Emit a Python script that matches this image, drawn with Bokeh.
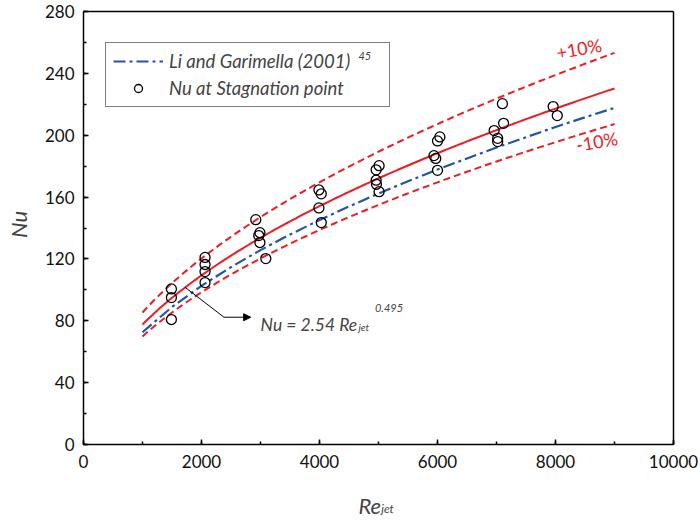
import numpy as np
from bokeh.plotting import figure
from bokeh.models import (Range1d, Label, Arrow, NormalHead, Legend, LegendItem,
                          SingleIntervalTicker, FixedTicker, LinearAxis)
from bokeh.embed import file_html
from bokeh.resources import INLINE

# ---- data ----
re_exp = [1490, 1490, 1490,
          2060, 2060, 2060, 2060,
          2920, 2990, 2970, 2990, 3090,
          3990, 4030, 3990, 4030,
          5010, 4960, 4960, 4965, 5010,
          6040, 6000, 5940, 5970, 6000,
          7100, 7120, 6960, 7020, 7020,
          7960, 8030]
nu_exp = [100.6, 95.0, 80.8,
          121.0, 116.4, 111.8, 104.7,
          145.4, 137.0, 135.1, 130.6, 120.2,
          164.6, 162.1, 153.0, 143.5,
          180.3, 177.6, 170.9, 168.3, 163.5,
          198.9, 196.3, 186.8, 185.0, 177.3,
          220.4, 207.7, 203.0, 198.0, 195.9,
          218.5, 212.7]

# Li and Garimella (2001) curve
lg_re = [1000, 1500, 2000, 2500, 3000, 3500, 4000, 4500, 5000,
         5500, 6000, 6500, 7000, 7500, 8000, 8500, 9000]
lg_nu = [72.6, 88.9, 102.6, 114.7, 125.7, 135.8, 145.1, 153.9, 162.3,
         170.2, 177.8, 185.0, 192.0, 198.7, 205.3, 211.6, 217.7]

# stated correlation Nu = 2.54 Re^0.495, +/-10 %
FIT_C = 2.54
FIT_N = 0.495
fit_re = np.linspace(1000, 9000, 161)
fit_nu = FIT_C * fit_re ** FIT_N
fit_hi = fit_nu * 1.10
fit_lo = fit_nu * 0.90

X_MIN, X_MAX, X_STEP = 0, 10000, 2000
Y_MIN, Y_MAX, Y_STEP = 0, 280, 40

RED = "#ed1c24"
BLUE = "#2155a5"
FONT = "Lato"

# layout: canvas 698x518, plot box at px 83..673 (x) and 11..444 (y)
W, H = 698, 518
BOX_L, BOX_R, BOX_T, BOX_B = 83, 673, 11, 444
sx = (BOX_R - BOX_L) / (X_MAX - X_MIN)
sy = (BOX_B - BOX_T) / (Y_MAX - Y_MIN)
xr = Range1d(X_MIN - BOX_L / sx, X_MAX + (W - BOX_R) / sx)
yr = Range1d(Y_MIN - (H - BOX_B) / sy, Y_MAX + BOX_T / sy)

p = figure(width=W, height=H, output_backend="svg", toolbar_location=None,
           x_range=xr, y_range=yr, min_border=0,
           x_axis_location=None, y_axis_location=None)
p.grid.visible = False
p.outline_line_color = None
p.background_fill_color = "white"
p.border_fill_color = "white"

xax = LinearAxis(fixed_location=Y_MIN, bounds=(X_MIN, X_MAX),
                 ticker=SingleIntervalTicker(interval=X_STEP, num_minor_ticks=2))
yax = LinearAxis(fixed_location=X_MIN, bounds=(Y_MIN, Y_MAX),
                 ticker=SingleIntervalTicker(interval=Y_STEP, num_minor_ticks=2))
tax = LinearAxis(fixed_location=Y_MAX, bounds=(X_MIN, X_MAX), ticker=FixedTicker(ticks=[]))
rax = LinearAxis(fixed_location=X_MAX, bounds=(Y_MIN, Y_MAX), ticker=FixedTicker(ticks=[]))
p.add_layout(xax, "below")
p.add_layout(yax, "left")
p.add_layout(tax, "above")
p.add_layout(rax, "right")
for ax in (xax, yax, tax, rax):
    ax.axis_line_color = "black"
    ax.axis_line_width = 1.5
    ax.major_tick_in = 5
    ax.major_tick_out = 0
    ax.minor_tick_in = 3
    ax.minor_tick_out = 0
    ax.major_tick_line_color = "black"
    ax.minor_tick_line_color = "black"
    ax.major_tick_line_width = 1.5
    ax.minor_tick_line_width = 1.5
    ax.major_label_text_font = FONT
    ax.major_label_text_font_size = "17px"
    ax.major_label_text_color = "#111111"
xax.major_label_standoff = 10
yax.major_label_standoff = 9

# curves
p.line(fit_re, fit_hi, line_color=RED, line_width=2, line_dash="7 4")
p.line(fit_re, fit_lo, line_color=RED, line_width=2, line_dash="7 4")
p.line(fit_re, fit_nu, line_color=RED, line_width=2)
lg = p.line(lg_re, lg_nu, line_color=BLUE, line_width=2.2, line_dash="12 4 3 4")
sc = p.scatter(re_exp, nu_exp, marker="circle", size=10, fill_alpha=0,
               line_color="black", line_width=1.3)

legend = Legend(items=[LegendItem(label="Li and Garimella (2001)", renderers=[lg]),
                       LegendItem(label="Nu at Stagnation point", renderers=[sc])],
                location=(105, H - 107), border_line_color="black", border_line_width=1,
                padding=7, glyph_width=50, glyph_height=20, label_standoff=6,
                spacing=5, label_width=213, label_height=20,
                label_text_font=FONT, label_text_font_style="italic",
                label_text_font_size="18.5px", background_fill_alpha=0)
p.add_layout(legend)
p.add_layout(Label(x=4660, y=251.5, text="45", level="overlay",
                   text_font=FONT, text_font_style="italic", text_font_size="11px",
                   text_baseline="middle", text_align="left"))

# +/-10 % labels
p.add_layout(Label(x=8400, y=256, text="+10%", text_color=RED, text_font=FONT,
                   text_font_size="18px", text_align="center", text_baseline="middle",
                   angle=0.17))
p.add_layout(Label(x=8700, y=196, text="-10%", text_color=RED, text_font=FONT,
                   text_font_size="18px", text_align="center", text_baseline="middle",
                   angle=0.17))

# correlation annotation with arrow
p.add_layout(Arrow(end=None, x_start=1720, y_start=101.7, x_end=2381, y_end=82.3,
                   line_color="black", line_width=1))
p.add_layout(Arrow(end=NormalHead(size=7, fill_color="black", line_color="black"),
                   x_start=2381, y_start=82.3, x_end=2833, y_end=82.3,
                   line_color="black", line_width=1))
p.add_layout(Label(x=3002, y=77.6, text="Nu = 2.54 Re", text_font=FONT,
                   text_font_style="italic", text_font_size="17.5px",
                   text_baseline="alphabetic"))
p.add_layout(Label(x=4660, y=75.8, text="jet", text_font=FONT,
                   text_font_style="italic", text_font_size="10px",
                   text_baseline="alphabetic"))
p.add_layout(Label(x=4940, y=88.5, text="0.495", text_font=FONT,
                   text_font_style="italic", text_font_size="11px",
                   text_baseline="middle"))

# axis titles
p.add_layout(Label(x=-1100, y=142.3, text="Nu",
                   text_font=FONT, text_font_style="italic", text_font_size="22px",
                   text_align="center", text_baseline="alphabetic", angle=np.pi / 2))
p.add_layout(Label(x=4660, y=-39.5, text="Re",
                   text_font=FONT, text_font_style="italic", text_font_size="22px",
                   text_align="left", text_baseline="alphabetic"))
p.add_layout(Label(x=5045, y=-41.5, text="jet",
                   text_font=FONT, text_font_style="italic", text_font_size="12px",
                   text_align="left", text_baseline="alphabetic"))

open("out.html", "w").write(file_html(p, INLINE))
